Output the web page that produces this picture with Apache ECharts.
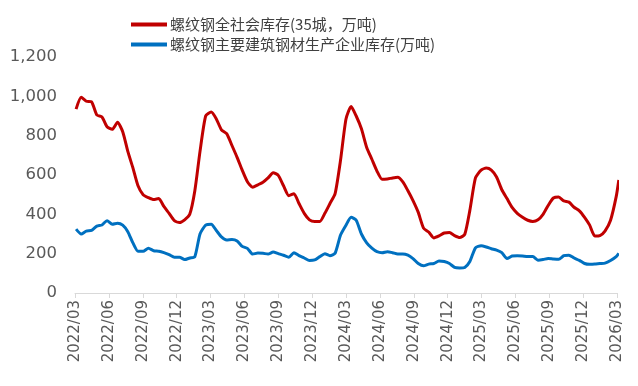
<!DOCTYPE html>
<html>
<head>
<meta charset="utf-8">
<script src="https://cdn.jsdelivr.net/npm/echarts@6/dist/echarts.min.js"></script>
<style>html,body{margin:0;padding:0;background:#fff}#c{width:638px;height:386px}</style>
</head>
<body>
<div id="c"></div>
<script>
const seriesNames = ['螺纹钢全社会库存(35城，万吨)', '螺纹钢主要建筑钢材生产企业库存(万吨)'];
const dates = [
'2022-03-04','2022-03-18','2022-04-01','2022-04-15','2022-04-29','2022-05-13','2022-05-27','2022-06-10','2022-06-24','2022-07-08','2022-07-22','2022-08-05','2022-08-19','2022-09-02','2022-09-16','2022-09-30','2022-10-14','2022-10-28','2022-11-11','2022-11-25','2022-12-09','2022-12-23',
'2023-01-06','2023-01-20','2023-02-03','2023-02-17','2023-03-03','2023-03-17','2023-03-31','2023-04-14','2023-04-28','2023-05-12','2023-05-26','2023-06-09','2023-06-23','2023-07-07','2023-07-21','2023-08-04','2023-08-18','2023-09-01','2023-09-15','2023-09-29','2023-10-13','2023-10-27','2023-11-10','2023-11-24','2023-12-08','2023-12-22',
'2024-01-05','2024-01-19','2024-02-02','2024-02-16','2024-03-01','2024-03-15','2024-03-29','2024-04-12','2024-04-26','2024-05-10','2024-05-24','2024-06-07','2024-06-21','2024-07-05','2024-07-19','2024-08-02','2024-08-16','2024-08-30','2024-09-13','2024-09-27','2024-10-11','2024-10-25','2024-11-08','2024-11-22','2024-12-06','2024-12-20',
'2025-01-03','2025-01-17','2025-01-31','2025-02-14','2025-02-28','2025-03-14','2025-03-28','2025-04-11','2025-04-25','2025-05-09','2025-05-23','2025-06-06','2025-06-20','2025-07-04','2025-07-18','2025-08-01','2025-08-15','2025-08-29','2025-09-12','2025-09-26','2025-10-10','2025-10-24','2025-11-07','2025-11-21','2025-12-05','2025-12-19',
'2026-01-02','2026-01-16','2026-01-30','2026-02-13','2026-02-27','2026-03-06'
];
const socialStock = [
935,995,975,972,905,895,845,832,868,820,720,636,545,500,485,475,480,440,405,368,358,372,
400,520,720,900,920,885,830,810,750,690,625,566,538,550,563,585,612,598,545,495,505,455,405,372,363,363,
405,455,505,676,885,948,900,835,740,680,620,578,580,585,588,565,520,470,410,330,310,280,290,305,307,292,
282,298,420,585,625,635,625,590,525,480,435,405,385,370,364,372,400,445,483,488,468,462,436,418,385,345,
290,292,315,370,490,575
];
const millStock = [
325,300,315,318,340,346,368,350,355,345,312,255,212,212,228,215,212,205,195,182,182,170,
178,185,300,345,350,318,285,270,272,265,237,227,198,203,202,198,208,200,192,182,205,190,178,165,168,185,
200,190,202,295,345,385,370,300,255,228,210,205,210,205,198,198,192,175,150,138,147,150,163,160,150,130,
127,130,160,230,240,234,225,218,205,175,188,190,188,185,185,167,170,176,173,171,190,192,178,166,150,146,
147,150,152,165,185,202
];
const yTicks = [0, 200, 400, 600, 800, 1000, 1200];

function monthIndex(s) {
  const [y, m, d] = s.split('-').map(Number);
  const dim = new Date(y, m, 0).getDate();
  return (y - 2022) * 12 + (m - 3) + (d - 1) / dim;
}
function pairs(vals) { return vals.map((v, i) => [monthIndex(dates[i]), v]); }

const font = 'DejaVu Sans, Noto Sans CJK SC, sans-serif';
const chart = echarts.init(document.getElementById('c'), null, { renderer: 'canvas' });
chart.setOption({
  animation: false,
  backgroundColor: '#ffffff',
  color: ['#C00000', '#0070C0'],
  legend: {
    orient: 'vertical',
    left: 126,
    top: 12,
    itemGap: 5,
    itemWidth: 36,
    itemHeight: 4,
    icon: 'rect',
    textStyle: { fontSize: 15, color: '#404040', fontFamily: 'Noto Sans CJK SC, sans-serif', padding: [0, 0, 0, -2] },
    data: seriesNames
  },
  grid: { left: 75, right: 21, top: 57, bottom: 93, containLabel: false },
  xAxis: {
    type: 'value',
    min: 0, max: 48, interval: 3,
    splitLine: { show: false },
    axisLine: { show: true, lineStyle: { color: '#D9D9D9', width: 1 } },
    axisTick: { show: true, length: 5, lineStyle: { color: '#D9D9D9' } },
    axisLabel: {
      rotate: 90, margin: 7, fontSize: 15, color: '#595959', fontFamily: font,
      formatter: v => {
        const m = (2 + v) % 12 + 1;
        const y = 2022 + Math.floor((2 + v) / 12);
        return y + '/' + (m < 10 ? '0' + m : m);
      }
    }
  },
  yAxis: {
    type: 'value',
    min: yTicks[0], max: yTicks[yTicks.length - 1], interval: 200,
    splitLine: { show: false },
    axisLine: { show: false },
    axisTick: { show: false },
    axisLabel: {
      margin: 18, fontSize: 16.5, color: '#595959', fontFamily: font,
      formatter: v => v.toLocaleString('en-US')
    }
  },
  series: [
    { name: seriesNames[0], type: 'line', data: pairs(socialStock), showSymbol: false, smooth: 0.2,
      lineStyle: { width: 3, color: '#C00000' }, itemStyle: { color: '#C00000' } },
    { name: seriesNames[1], type: 'line', data: pairs(millStock), showSymbol: false, smooth: 0.2,
      lineStyle: { width: 3, color: '#0070C0' }, itemStyle: { color: '#0070C0' } }
  ]
});
</script>
</body>
</html>
